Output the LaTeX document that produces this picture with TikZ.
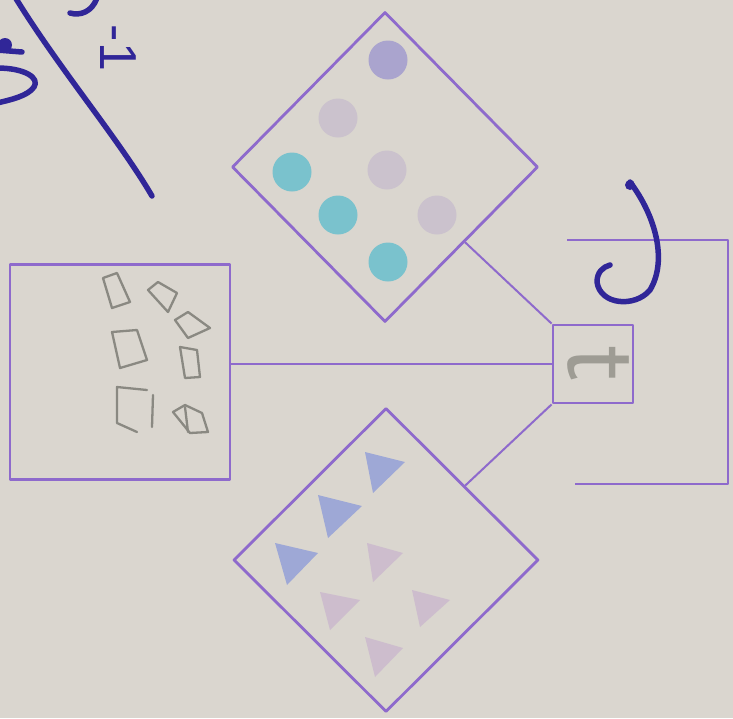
\documentclass[tikz,border=0pt]{standalone}
\usepackage{fontspec}
\usetikzlibrary{shapes.geometric}
\newfontfamily\handfont{Liberation Sans}
\definecolor{paper}{RGB}{218,214,207}
\definecolor{violetline}{RGB}{142,106,204}
\definecolor{pen}{RGB}{48,38,152}
\definecolor{pencil}{RGB}{138,137,130}
\definecolor{tpencil}{RGB}{158,156,148}
\definecolor{dotlav}{RGB}{170,164,206}
\definecolor{dotgray}{RGB}{203,194,205}
\definecolor{dotteal}{RGB}{122,194,205}
\definecolor{tribl}{RGB}{158,168,214}
\definecolor{tripk}{RGB}{205,189,205}
\begin{document}
\begin{tikzpicture}[x=1pt,y=-1pt,
  frame/.style={draw=violetline,line width=2.8pt,line join=round},
  dmd/.style={frame,diamond,inner sep=0pt},
  box/.style={frame,rectangle,inner sep=0pt},
  wire/.style={draw=violetline,line width=2pt},
  dot/.style={circle,inner sep=0pt,minimum size=39pt},
  pentrace/.style={draw=pen,line width=5.5pt,line cap=round,line join=round},
  pencilq/.style={draw=pencil,line width=2.3pt,line join=round,line cap=round}
]
\fill[paper] (0,0) rectangle (733,718);
\useasboundingbox (0,0) rectangle (733,718);

% main shapes
\node[dmd,minimum width=306pt,minimum height=310pt] (topD) at (385,167) {};
\node[dmd,minimum width=305pt,minimum height=304pt] (botD) at (386,560) {};
\node[box,minimum width=220pt,minimum height=215pt] (leftB) at (120,372) {};
\node[box,minimum width=80pt,minimum height=78pt] (hub) at (593,364) {};

% connectors
\draw[wire] (topD) -- (hub.north west);
\draw[wire] (botD) -- (hub.south west);
\draw[wire] (leftB.east |- hub.west) -- (hub.west);

% right bracket
\coordinate (bt) at (567,240);
\coordinate (bc1) at (728,240);
\coordinate (bc2) at (728,484);
\coordinate (bb) at (575,484);
\draw[frame] (bt) -- (bc1) -- (bc2) -- (bb);

% dots in top diamond
\node[dot,fill=dotlav]  (c1) at (388,60) {};
\node[dot,fill=dotgray] (c2) at (338,118) {};
\node[dot,fill=dotteal] (c3) at (292,172) {};
\node[dot,fill=dotgray] (c4) at (387,170) {};
\node[dot,fill=dotteal] (c5) at (338,215) {};
\node[dot,fill=dotgray] (c6) at (437,215) {};
\node[dot,fill=dotteal] (c7) at (388,262) {};

% triangles in bottom diamond
\fill[tribl] (365,452) -- (405,462) -- (373,493) -- cycle;
\fill[tribl] (318,495) -- (362,506) -- (328,538) -- cycle;
\fill[tribl] (275,543) -- (318,553) -- (287,585) -- cycle;
\fill[tripk] (367,543) -- (403,553) -- (373,582) -- cycle;
\fill[tripk] (320,592) -- (360,600) -- (330,630) -- cycle;
\fill[tripk] (412,590) -- (450,600) -- (420,627) -- cycle;
\fill[tripk] (365,637) -- (403,648) -- (375,677) -- cycle;

% pencil quads in left box
\draw[pencilq] (103,278) -- (117,273) -- (130,302) -- (112,308) -- cycle;
\draw[pencilq] (148,290) -- (158,282) -- (177,293) -- (168,312) -- cycle;
\draw[pencilq] (175,320) -- (188,312) -- (210,328) -- (188,338) -- cycle;
\draw[pencilq] (112,332) -- (137,330) -- (147,360) -- (120,368) -- cycle;
\draw[pencilq] (180,347) -- (197,350) -- (200,377) -- (185,378) -- cycle;
\draw[pencilq] (147,390) -- (117,387) -- (117,423) -- (137,432);
\draw[pencilq] (153,395) -- (152,427);
\draw[pencilq] (173,412) -- (185,405) -- (202,413) -- (208,432) -- (190,433) -- cycle;
\draw[pencilq] (185,407) -- (188,432);

% label in hub
\node[text=tpencil,rotate=-90,inner sep=0pt,font=\sffamily\fontsize{110}{110}\selectfont] (tlabel) at (598,364) {t};

% blue pen marks
\draw[pentrace] (15,-3) .. controls (60,70) and (118,138) .. (152,196);
\draw[pentrace] (70,13) .. controls (80,16) and (92,12) .. (97,-2);
\draw[pentrace] (-3,50) -- (22,52);
\fill[pen] (5,45) circle (7);
\draw[pentrace] (-3,68) .. controls (25,68) and (40,78) .. (34,87) .. controls (28,96) and (10,100) .. (-3,103);
\node[text=pen,rotate=-90,inner sep=0pt,font=\handfont\fontsize{52}{52}\selectfont] (minusone) at (118,48) {-1};
\draw[pentrace] (630,182) .. controls (655,215) and (668,260) .. (650,290) .. controls (635,308) and (600,305) .. (597,282) .. controls (597,272) and (603,267) .. (610,265);
\fill[pen] (630,185) circle (5);
\end{tikzpicture}
\end{document}
